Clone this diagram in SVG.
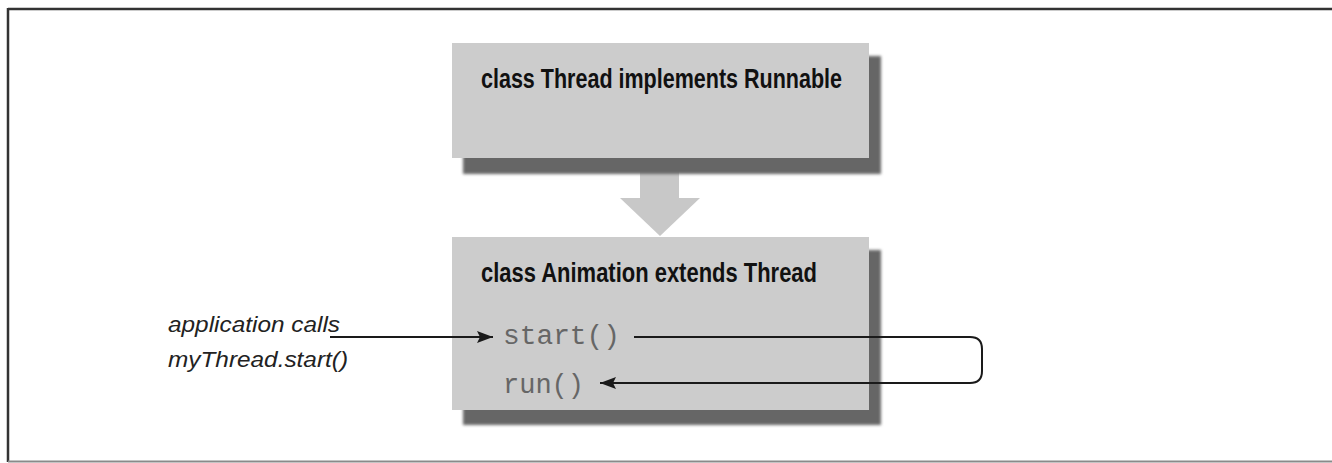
<svg xmlns="http://www.w3.org/2000/svg" width="1332" height="463" viewBox="0 0 1332 463">
<style>
.box{fill:#cccccc}
.shadow{fill:#666666;filter:url(#blur)}
.title{font-family:"Liberation Sans",Arial,sans-serif;font-weight:bold;font-size:28px;fill:#111}
.code{font-family:"Liberation Mono","Courier New",monospace;font-size:27px;fill:#666666}
.label{font-family:"Liberation Sans",Arial,sans-serif;font-style:italic;font-size:22px;fill:#222}
.conn{fill:none;stroke:#1a1a1a;stroke-width:2}
</style>
<defs>
<filter id="blur" x="-5%" y="-5%" width="110%" height="110%"><feGaussianBlur stdDeviation="1.5"/></filter>
<marker id="ah" markerWidth="16" markerHeight="12" refX="16" refY="6" orient="auto" markerUnits="userSpaceOnUse">
<path d="M0,0 L16,6 L0,12 L3,6 Z" fill="#1a1a1a"/>
</marker>
</defs>
<rect width="1332" height="463" fill="#ffffff"/>
<g id="frame">
<line x1="8" y1="9" x2="1332" y2="9" stroke="#333" stroke-width="2.5"/>
<line x1="8" y1="8" x2="8" y2="462" stroke="#333" stroke-width="2.5"/>
<line x1="8" y1="461.5" x2="1332" y2="461.5" stroke="#8a8a8a" stroke-width="2"/>
</g>
<g id="inherit-arrow">
<rect x="640" y="150" width="39" height="50" fill="#c8c8c8"/>
<polygon points="620,198 700,198 660,236" fill="#c8c8c8"/>
</g>
<g id="thread">
<rect class="shadow" x="463" y="56" width="418" height="118"/>
<rect class="box" x="452" y="43" width="417" height="115"/>
<text class="title" x="481" y="88" textLength="361" lengthAdjust="spacingAndGlyphs">class Thread implements Runnable</text>
</g>
<g id="animation">
<rect class="shadow" x="463" y="250" width="418" height="175"/>
<rect class="box" x="452" y="237" width="417" height="173"/>
<text class="title" x="481" y="282" textLength="336" lengthAdjust="spacingAndGlyphs">class Animation extends Thread</text>
<text class="code" x="503" y="344" textLength="117" lengthAdjust="spacingAndGlyphs">start()</text>
<text class="code" x="503" y="393" textLength="81" lengthAdjust="spacingAndGlyphs">run()</text>
</g>
<g id="caller">
<text class="label" x="168" y="332" textLength="172" lengthAdjust="spacingAndGlyphs">application calls</text>
<text class="label" x="168" y="367" textLength="180" lengthAdjust="spacingAndGlyphs">myThread.start()</text>
</g>
<g id="connectors">
<line class="conn" x1="330" y1="337" x2="493" y2="337" marker-end="url(#ah)"/>
<path class="conn" d="M634,337 H970 Q982,337 982,349 V371 Q982,383 970,383 H600" marker-end="url(#ah)"/>
</g>
</svg>
